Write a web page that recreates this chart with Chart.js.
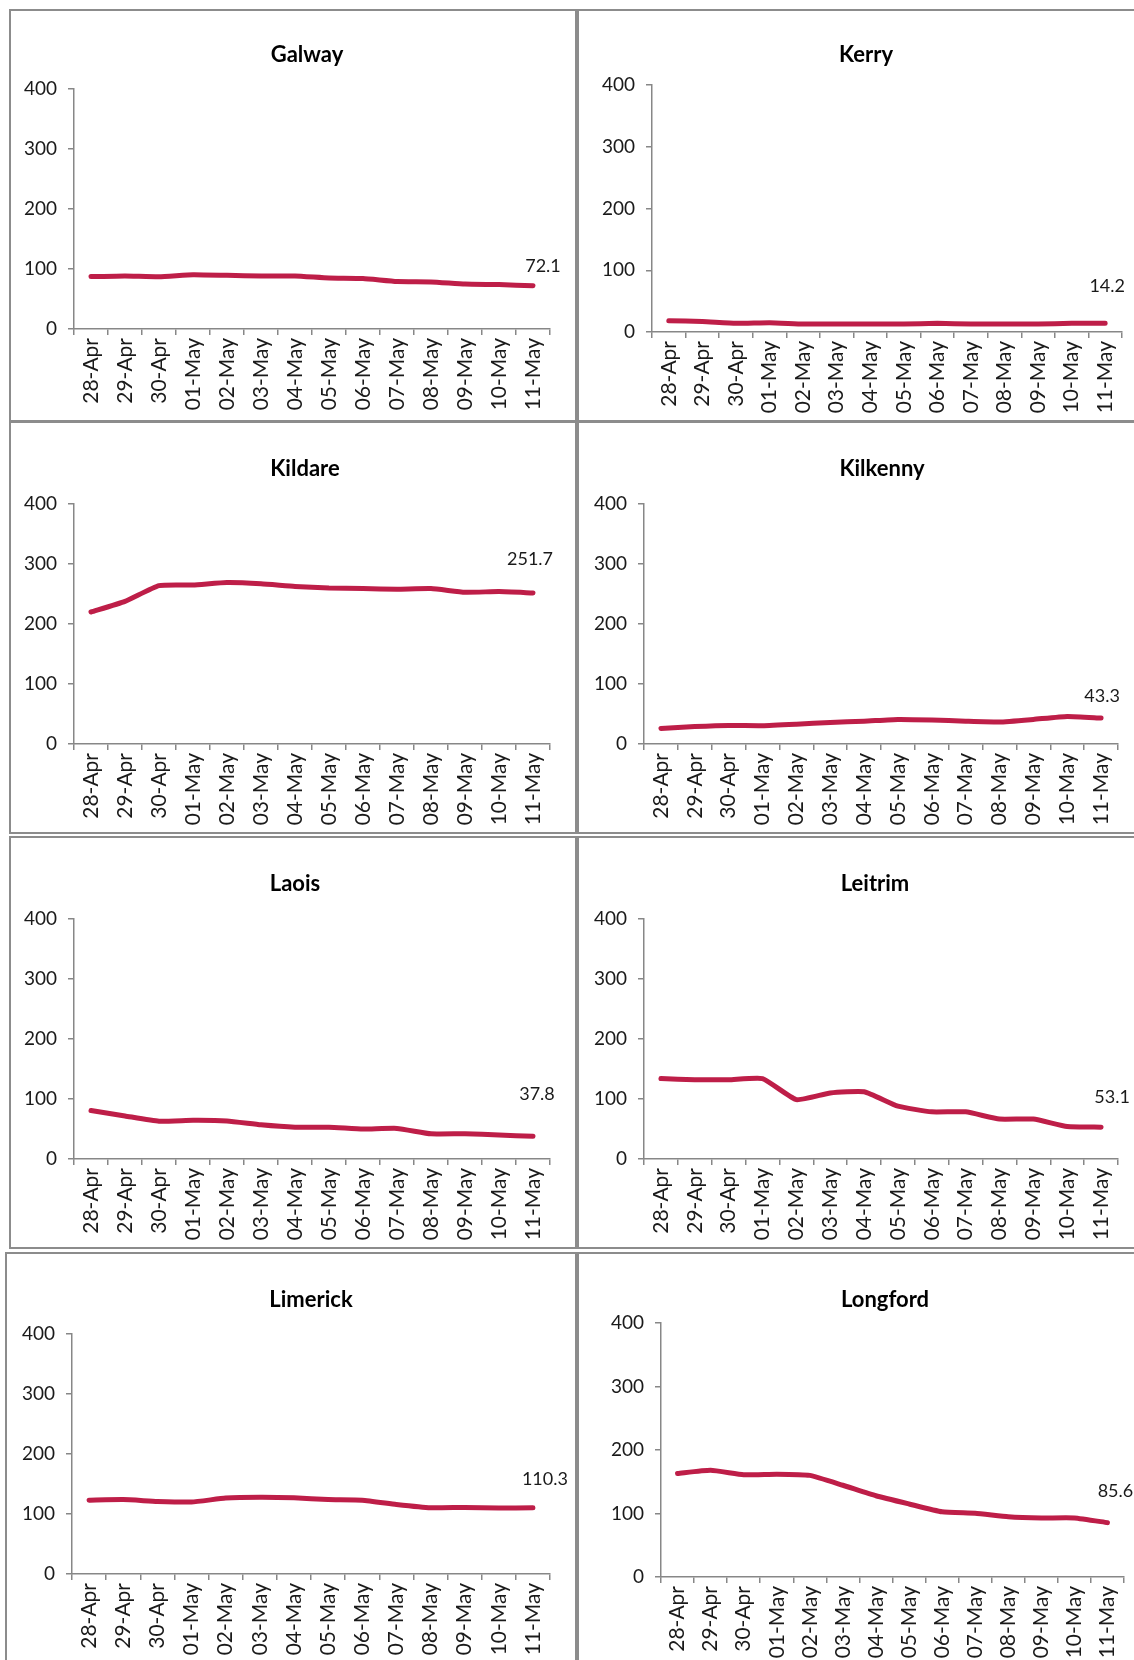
<!DOCTYPE html>
<html>
<head>
<meta charset="utf-8">
<script src="https://cdn.jsdelivr.net/npm/chart.js@4"></script>
<style>
  body { margin: 0; background: #fff; width: 1134px; height: 1660px; overflow: hidden; position: relative; }
  .frame { position: absolute; box-sizing: border-box; border: 2px solid #8c8c8c; }
  canvas { position: absolute; }
</style>
</head>
<body>
<script>
// ── data ──
const dates = ['28-Apr', '29-Apr', '30-Apr', '01-May', '02-May', '03-May', '04-May',
               '05-May', '06-May', '07-May', '08-May', '09-May', '10-May', '11-May'];
const yTicks = [0, 100, 200, 300, 400];

const galway   = [87.3, 88.4, 87, 90.6, 89.5, 88.4, 88.4, 85, 84, 79, 78.5, 75, 74, 72.1];
const kerry    = [18.3, 17, 14, 15, 13, 13, 13, 13, 14, 13, 13, 13, 14, 14.2];
const kildare  = [220, 237.7, 264, 265, 269, 267, 262.6, 260, 259, 258, 259, 253, 254, 251.7];
const kilkenny = [26, 29, 31, 30.5, 33, 36, 38, 41, 40, 38, 36.7, 41, 46, 43.3];
const laois    = [80.7, 71.8, 63, 64.6, 63.5, 57, 53, 53, 50, 51, 42, 42, 40, 37.8];
const leitrim  = [134, 132, 132, 134, 99, 110, 112, 88, 78.6, 78.6, 66.5, 66.5, 54, 53.1];
const limerick = [123, 124, 121, 120, 126.5, 128, 127, 124, 123, 116, 110.5, 111, 110, 110.3];
const longford = [163, 168, 161, 162, 160, 144.5, 128, 115, 102.6, 100.5, 95, 93, 93, 85.6];

// ── layout of the eight panels (page coords) ──
const panels = [
  { title: 'Galway',   data: galway,   px: 9,   py: 9,    pw: 568, area: [74, 89, 550, 329],     titleAt: [307, 55],   labelOff: [10, -20] },
  { title: 'Kerry',    data: kerry,    px: 577, py: 9,    pw: 568, area: [652, 85, 1122, 332],   titleAt: [866, 55],   labelOff: [2, -37] },
  { title: 'Kildare',  data: kildare,  px: 9,   py: 421,  pw: 568, area: [74, 504, 550, 744],    titleAt: [305, 469],  labelOff: [-3, -34] },
  { title: 'Kilkenny', data: kilkenny, px: 577, py: 421,  pw: 568, area: [644, 504, 1118, 744],  titleAt: [882, 469],  labelOff: [1, -22] },
  { title: 'Laois',    data: laois,    px: 9,   py: 836,  pw: 568, area: [74, 919, 550, 1159],   titleAt: [295, 884],  labelOff: [4, -42] },
  { title: 'Leitrim',  data: leitrim,  px: 577, py: 836,  pw: 568, area: [644, 919, 1118, 1159], titleAt: [875, 884],  labelOff: [11, -30] },
  { title: 'Limerick', data: limerick, px: 5,   py: 1252, pw: 572, area: [72, 1334, 550, 1574],  titleAt: [311, 1300], labelOff: [12, -29] },
  { title: 'Longford', data: longford, px: 577, py: 1252, pw: 568, area: [661, 1323, 1124, 1577], titleAt: [885, 1300], labelOff: [8, -31] },
];

const PH = 413;
const RED = '#be1e48';
const AXIS = '#878787';
const TXT = '#1a1a1a';
const FONT = 'Lato, "Open Sans", sans-serif';

panels.forEach(p => {
  const frame = document.createElement('div');
  frame.className = 'frame';
  Object.assign(frame.style, { left: p.px + 'px', top: p.py + 'px', width: p.pw + 'px', height: PH + 'px' });
  document.body.appendChild(frame);

  const cv = document.createElement('canvas');
  cv.width = p.pw; cv.height = PH;
  Object.assign(cv.style, { left: p.px + 'px', top: p.py + 'px' });
  document.body.appendChild(cv);

  const left = p.area[0] - p.px, top = p.area[1] - p.py;
  const right = p.area[2] - p.px, bottom = p.area[3] - p.py;

  // title drawn at a fixed spot, like the hand-placed Excel titles
  const titlePlugin = {
    id: 'panelTitle',
    afterDraw(chart) {
      const ctx = chart.ctx;
      ctx.save();
      ctx.font = 'bold 22px ' + FONT;
      ctx.fillStyle = '#000';
      ctx.textAlign = 'center';
      ctx.textBaseline = 'middle';
      ctx.fillText(p.title, p.titleAt[0] - p.px, p.titleAt[1] - p.py);
      ctx.restore();
    }
  };

  // value label on the last point
  const lastLabel = {
    id: 'lastLabel',
    afterDatasetsDraw(chart) {
      const meta = chart.getDatasetMeta(0);
      const pt = meta.data[meta.data.length - 1];
      const v = chart.data.datasets[0].data[meta.data.length - 1];
      const ctx = chart.ctx;
      ctx.save();
      ctx.font = '18px ' + FONT;
      ctx.fillStyle = TXT;
      ctx.textAlign = 'center';
      ctx.textBaseline = 'middle';
      ctx.fillText(v.toFixed(1), pt.x + p.labelOff[0], pt.y + p.labelOff[1]);
      ctx.restore();
    }
  };

  new Chart(cv, {
    type: 'line',
    data: {
      labels: dates,
      datasets: [{
        data: p.data,
        borderColor: RED,
        borderWidth: 5,
        pointRadius: 0,
        tension: 0.15,
        borderCapStyle: 'round',
        borderJoinStyle: 'round',
        fill: false
      }]
    },
    options: {
      responsive: false,
      animation: false,
      devicePixelRatio: 1,
      layout: { padding: { left: 0, top: top, right: p.pw - right, bottom: 0 } },
      plugins: { legend: { display: false }, tooltip: { enabled: false }, title: { display: false } },
      scales: {
        x: {
          offset: true,
          grid: { offset: true, drawOnChartArea: false, drawTicks: true, tickLength: 6, color: AXIS, lineWidth: 1.5 },
          border: { color: AXIS, width: 1.5 },
          ticks: { autoSkip: false, minRotation: 90, maxRotation: 90, padding: 3, color: TXT, font: { family: FONT, size: 21 } },
          afterFit: s => { s.height = PH - bottom; }
        },
        y: {
          min: yTicks[0],
          max: yTicks[yTicks.length - 1],
          afterBuildTicks: s => { s.ticks = yTicks.map(v => ({ value: v })); },
          grid: { drawOnChartArea: false, drawTicks: true, tickLength: 6, color: AXIS, lineWidth: 1.5 },
          border: { color: AXIS, width: 1.5 },
          ticks: { padding: 11, color: TXT, font: { family: FONT, size: 19 } },
          afterFit: s => { s.width = left; }
        }
      }
    },
    plugins: [titlePlugin, lastLabel]
  });
});
</script>
</body>
</html>
